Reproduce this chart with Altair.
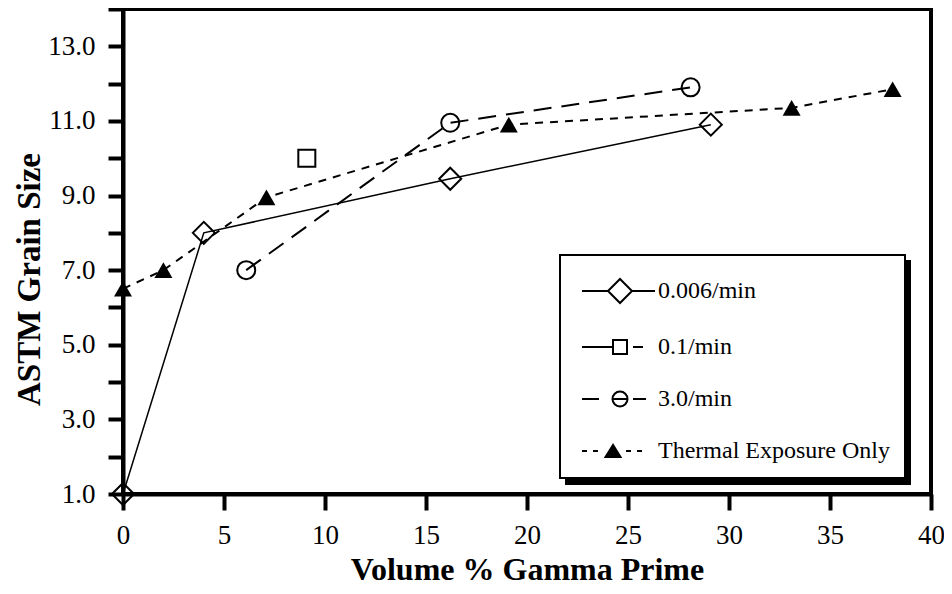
import altair as alt
import pandas as pd

# ---- data ----
series_names = ["0.006/min", "0.1/min", "3.0/min", "Thermal Exposure Only"]
x_006 = [0.0, 4.0, 16.2, 29.1]
y_006 = [1.0, 8.0, 9.45, 10.9]
x_01 = [9.1]
y_01 = [10.0]
x_30 = [6.1, 16.2, 28.1]
y_30 = [7.0, 10.95, 11.9]
x_th = [0.0, 2.0, 7.1, 19.1, 33.1, 38.1]
y_th = [6.5, 7.0, 8.95, 10.9, 11.35, 11.85]
x_ticks = [0, 5, 10, 15, 20, 25, 30, 35, 40]
y_ticks = list(range(1, 15))


def frame(xs, ys, name):
    return pd.DataFrame({"x": xs, "y": ys, "series": name, "s2": name})


d006 = frame(x_006, y_006, series_names[0])
d01 = frame(x_01, y_01, series_names[1])
d30 = frame(x_30, y_30, series_names[2])
dth = frame(x_th, y_th, series_names[3])
dall = pd.concat([d006, d01, d30, dth], ignore_index=True)

FONT = "Liberation Serif"

# ---- legend symbol paths (line style + marker), unit = 10px ----
p1 = "M-3.8,0H-1.2M-1.2,0L0,-1.2L1.2,0L0,1.2ZM1.2,0H3.5"
p2 = "M-3.8,0H-0.7M-0.7,-0.7H0.7V0.7H-0.7ZM1.3,0H2.3"
p3 = ("M-3.8,0H-2.1M0.75,0A0.75,0.75,0,1,1,-0.75,0A0.75,0.75,0,1,1,0.75,0Z"
      "M-0.75,0H0.75M1.3,0H2.6")
tri = "M-0.7,-0.6L-1.45,0.6L0.05,0.6Z"
hatch = ""
yy = -0.5
while yy < 0.6:
    half = 0.75 * (yy + 0.6) / 1.2
    hatch += "M%.3f,%.3fH%.3f" % (-0.7 - half, yy, -0.7 + half)
    yy += 0.1
p4 = "M-3.8,0H-3.3M-2.7,0H-2.2" + tri + hatch + "M0.6,0H1.1M1.7,0H2.2"
paths = [p1, p2, p3, p4]

# drop-shadow block behind the legend box (unit = 1px)
shadow_path = "M0,0H343V222H0Z"

xenc = alt.X(
    "x:Q",
    scale=alt.Scale(domain=[0, 40], nice=False, zero=False),
    axis=alt.Axis(
        values=x_ticks,
        title="Volume % Gamma Prime",
        titleFontSize=32,
        tickSize=16,
        labelPadding=12,
        labelFlush=False,
        titleY=60,
        titleBaseline="top",
    ),
)
yenc = alt.Y(
    "y:Q",
    scale=alt.Scale(domain=[1, 14], nice=False, zero=False),
    axis=alt.Axis(
        values=y_ticks,
        labelExpr="datum.value % 2 == 1 ? format(datum.value, '.1f') : ''",
        title="ASTM Grain Size",
        titleFontSize=33,
        tickSize=15,
        labelPadding=13,
        labelFlush=False,
        labelOverlap=False,
        titleX=-77,
        titleY=270,
    ),
)

# shadow block (a one-entry legend whose symbol is a black rectangle)
shadow = alt.Chart(dall).mark_point(size=0, opacity=1, filled=True, color="black").encode(
    x=xenc, y=yenc,
    shape=alt.Shape(
        "s2:N",
        scale=alt.Scale(domain=series_names, range=[shadow_path] * 4),
        legend=alt.Legend(
            orient="none", legendX=443, legendY=252, zindex=1,
            title=None, values=[series_names[0]],
            labelExpr="''", labelFontSize=1,
            symbolSize=4, symbolStrokeWidth=0, symbolOffset=0,
            symbolFillColor="black", symbolStrokeColor="black",
            padding=0, fillColor="black", strokeColor="black",
        ),
    ),
)

# main legend
keyed = alt.Chart(dall).mark_point(size=0, opacity=1, filled=False, color="black").encode(
    x=xenc, y=yenc,
    shape=alt.Shape(
        "series:N",
        scale=alt.Scale(domain=series_names, range=paths),
        legend=alt.Legend(
            orient="none", legendX=437, legendY=246, zindex=2,
            title=" ", titleFontSize=8, titlePadding=1, titleColor="white",
            fillColor="white", strokeColor="black", labelColor="black",
            symbolStrokeColor="black", symbolSize=400, symbolStrokeWidth=2,
            labelFont=FONT, labelFontSize=24, labelLimit=500,
            padding=15, rowPadding=28, symbolOffset=33, labelOffset=26,
        ),
    ),
)

line006 = alt.Chart(d006).mark_line(color="black", strokeWidth=1.5).encode(x=xenc, y=yenc)
line30 = alt.Chart(d30).mark_line(color="black", strokeWidth=2, strokeDash=[18, 10]).encode(x=xenc, y=yenc)
lineth = alt.Chart(dth).mark_line(color="black", strokeWidth=2, strokeDash=[8, 7]).encode(x=xenc, y=yenc)

pt006 = alt.Chart(d006).mark_point(shape="diamond", size=484, filled=False, strokeWidth=2,
                                   color="black", opacity=1).encode(x=xenc, y=yenc)
pt01 = alt.Chart(d01).mark_point(shape="square", size=289, filled=False, strokeWidth=2,
                                 color="black", opacity=1).encode(x=xenc, y=yenc)
pt30 = alt.Chart(d30).mark_point(shape="circle", size=324, filled=False, strokeWidth=2,
                                 color="black", opacity=1).encode(x=xenc, y=yenc)
ptth = alt.Chart(dth).mark_point(shape="triangle-up", size=324, filled=True,
                                 color="black", opacity=1).encode(x=xenc, y=yenc)

chart = (
    alt.layer(shadow, keyed, line006, line30, lineth, pt006, pt01, pt30, ptth)
    .resolve_scale(shape="independent")
    .resolve_legend(shape="independent")
    .properties(
        width=808,
        height=485,
        autosize=alt.AutoSizeParams(type="none"),
        padding={"left": 115, "top": 1, "right": 13, "bottom": 92},
        background="white",
    )
    .configure_view(stroke="black", strokeWidth=4)
    .configure_legend(strokeWidth=2)
    .configure_axis(
        grid=False,
        domainColor="black",
        domainWidth=4,
        tickColor="black",
        tickWidth=4,
        labelFont=FONT,
        labelFontSize=27,
        labelColor="black",
        titleFont=FONT,
        titleFontWeight="bold",
        titleColor="black",
    )
)

chart.save("out.html", embed_options={"renderer": "svg", "actions": False})
